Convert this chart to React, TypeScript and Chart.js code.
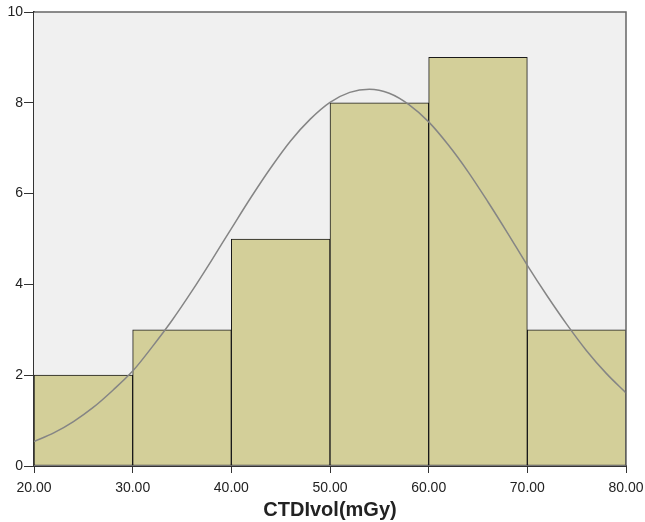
import React, { useEffect, useRef } from "react";
import { Chart, registerables } from "chart.js";

Chart.register(...registerables);

// Histogram bins (centres of 10-unit bins) and frequencies
const binCenters = [25, 35, 45, 55, 65, 75];
const frequencies = [2, 3, 5, 8, 9, 3];

// Fitted normal curve
const curveX = [20, 22, 24, 26, 28, 30, 32, 34, 36, 38, 40, 42, 44, 46, 48, 50, 52, 54, 56, 58, 60, 62, 64, 66, 68, 70, 72, 74, 76, 78, 80];
const curveY = [0.54, 0.73, 0.98, 1.29, 1.67, 2.09, 2.63, 3.21, 3.85, 4.53, 5.23, 5.92, 6.57, 7.16, 7.64, 8.01, 8.23, 8.30, 8.21, 7.96, 7.58, 7.07, 6.48, 5.82, 5.13, 4.42, 3.75, 3.12, 2.54, 2.04, 1.61];

const xTickValues = [20, 30, 40, 50, 60, 70, 80];
const yTickValues = [0, 2, 4, 6, 8, 10];
const xTitle = "CTDIvol(mGy)";

const FONT = "'Liberation Sans', Arial, sans-serif";

const plotFrame = {
  id: "plotFrame",
  beforeDatasetsDraw(chart: any) {
    const { ctx, chartArea } = chart;
    ctx.save();
    ctx.fillStyle = "#f0f0f0";
    ctx.fillRect(chartArea.left, chartArea.top, chartArea.right - chartArea.left, chartArea.bottom - chartArea.top);
    ctx.restore();
  },
  afterDatasetsDraw(chart: any) {
    const { ctx, chartArea } = chart;
    ctx.save();
    ctx.strokeStyle = "#666666";
    ctx.lineWidth = 1.5;
    ctx.beginPath();
    ctx.moveTo(chartArea.left, chartArea.top);
    ctx.lineTo(chartArea.right, chartArea.top);
    ctx.lineTo(chartArea.right, chartArea.bottom);
    ctx.stroke();
    ctx.restore();
  },
};

export default function App() {
  const canvasRef = useRef<HTMLCanvasElement | null>(null);

  useEffect(() => {
    if (!canvasRef.current) return;
    const chart = new Chart(canvasRef.current, {
      type: "bar",
      data: {
        datasets: [
          {
            type: "line",
            data: curveX.map((x, i) => ({ x, y: curveY[i] })),
            borderColor: "#858585",
            borderWidth: 1.5,
            pointRadius: 0,
            tension: 0.4,
            cubicInterpolationMode: "monotone",
            fill: false,
            order: 0,
          } as any,
          {
            type: "bar",
            data: binCenters.map((x, i) => ({ x, y: frequencies[i] })),
            backgroundColor: "#d3cf99",
            borderColor: "#1a1a1a",
            borderWidth: 1,
            borderSkipped: false,
            barPercentage: 1,
            categoryPercentage: 1,
            order: 1,
          } as any,
        ],
      },
      options: {
        responsive: false,
        animation: false,
        devicePixelRatio: 1,
        layout: { padding: { top: 12, right: 19, left: 0, bottom: 0 } },
        plugins: { legend: { display: false }, tooltip: { enabled: false } },
        scales: {
          x: {
            type: "linear",
            min: 20,
            max: 80,
            offset: false,
            afterBuildTicks: (s: any) => {
              s.ticks = xTickValues.map((v) => ({ value: v }));
            },
            afterFit: (s: any) => {
              s.height = 56;
              s.paddingRight = 0;
              s.paddingLeft = 0;
            },
            ticks: {
              callback: (v: any) => Number(v).toFixed(2),
              color: "#222222",
              font: { family: FONT, size: 14 },
              padding: 7,
              maxRotation: 0,
              autoSkip: false,
            },
            grid: {
              drawOnChartArea: false,
              tickLength: 7,
              color: "#333333",
              offset: false,
            },
            border: { color: "#333333", width: 2 },
            title: {
              display: true,
              text: xTitle,
              color: "#222222",
              font: { family: FONT, size: 20, weight: "bold" },
              padding: { top: 0, bottom: 0 },
            },
          },
          y: {
            type: "linear",
            min: 0,
            max: 10,
            afterBuildTicks: (s: any) => {
              s.ticks = yTickValues.map((v) => ({ value: v }));
            },
            afterFit: (s: any) => {
              s.width = 34;
              s.paddingTop = 0;
              s.paddingBottom = 0;
            },
            ticks: {
              color: "#222222",
              font: { family: FONT, size: 14 },
              padding: 1,
            },
            grid: {
              drawOnChartArea: false,
              tickLength: 10,
              color: "#333333",
            },
            border: { color: "#333333", width: 2 },
          },
        },
      },
      plugins: [plotFrame],
    } as any);
    return () => chart.destroy();
  }, []);

  return (
    <div style={{ position: "absolute", left: 0, top: 0, width: 645, height: 522, background: "#ffffff" }}>
      <canvas ref={canvasRef} width={645} height={522} />
    </div>
  );
}
